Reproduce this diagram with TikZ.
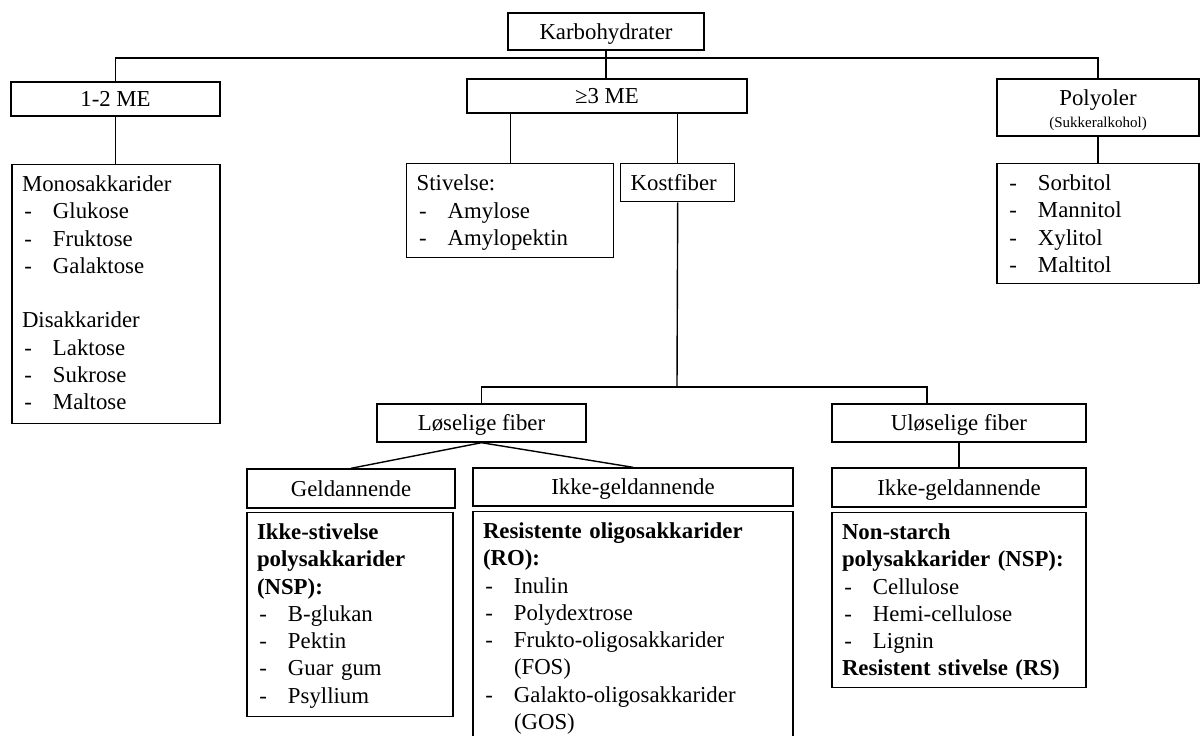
\documentclass[tikz,border=0pt]{standalone}
\usepackage{fontspec}
\setmainfont{Liberation Serif}
\usetikzlibrary{positioning}
\newcommand{\strek}{\makebox[15.5pt][l]{\hspace{1.2pt}-}}

\begin{document}
\begin{tikzpicture}[
  x=0.5pt, y=-0.5pt,
  font=\fontsize{11.4}{13.65}\selectfont,
  box/.style={draw, line width=0.7pt, align=center, inner sep=0pt, text height=7.9pt, text depth=0.3pt},
  listbox/.style={draw, line width=0.7pt, anchor=north west, align=left, inner xsep=5pt, inner ysep=3.9pt, text height=9.6pt, text depth=#1},
  link/.style={line width=0.7pt}
]
\useasboundingbox (0,0) rectangle (1201,735);
\clip (0,0) rectangle (1201,735);

\node[box, minimum width=98pt, minimum height=18.5pt] (karb) at (606,31.5) {Karbohydrater};
\node[box, minimum width=104.5pt, minimum height=17pt] (me12) at (115.5,99) {1-2 ME};
\node[box, minimum width=140pt, minimum height=17pt] (me3) at (607,96) {≥3 ME};
\node[box, minimum width=101pt, minimum height=28.5pt, text height=21pt, text depth=1.5pt] (poly) at (1098,107.5) {Polyoler\\[-2.7pt]{\fontsize{7.5}{9}\selectfont (Sukkeralkohol)}};

\node[listbox=112pt, text width=94pt, below right=23.5pt and 0.5pt of me12.south west] (mono) {Monosakkarider\\\strek Glukose\\\strek Fruktose\\\strek Galaktose\\[13.65pt]Disakkarider\\\strek Laktose\\\strek Sukrose\\\strek Maltose};
\node[listbox=29.6pt, text width=93.5pt] (stiv) at (406,163) {Stivelse:\\\strek Amylose\\\strek Amylopektin};
\node[listbox=1.6pt, text width=47pt] (kost) at (620,163) {Kostfiber};
\node[listbox=42.6pt, text width=91pt, below right=13pt and 0pt of poly.south west] (sorb) {\strek Sorbitol\\\strek Mannitol\\\strek Xylitol\\\strek Maltitol};

\node[box, minimum width=104.5pt, minimum height=19pt] (los) at (481.5,423) {Løselige fiber};
\node[box, minimum width=127pt, minimum height=19pt] (ulos) at (959,423) {Uløselige fiber};
\node[box, minimum width=104pt, minimum height=19.5pt] (geld) at (351,488.5) {Geldannende};
\node[box, minimum width=160pt, minimum height=19pt] (ikke1) at (633,487) {Ikke-geldannende};
\node[box, minimum width=127pt, minimum height=19.5pt] (ikke2) at (959,487.5) {Ikke-geldannende};

\node[listbox=84.6pt, text width=93pt, below right=1.5pt and 0pt of geld.south west] (nsp1) {\textbf{Ikke-stivelse}\\\textbf{polysakkarider}\\\textbf{(NSP):}\\\strek B-glukan\\\strek Pektin\\\strek Guar gum\\\strek Psyllium};
\node[listbox=107.6pt, text width=150pt, below right=2pt and 0pt of ikke1.south west] (ro) {\textbf{Resistente oligosakkarider}\\\textbf{(RO):}\\\strek Inulin\\\strek Polydextrose\\\strek Frukto-oligosakkarider\\\hspace*{15.5pt}(FOS)\\\strek Galakto-oligosakkarider\\\hspace*{15.5pt}(GOS)};
\node[listbox=70.1pt, text width=117pt, below right=2pt and 0pt of ikke2.south west] (nsp2) {\textbf{Non-starch}\\\textbf{polysakkarider (NSP):}\\\strek Cellulose\\\strek Hemi-cellulose\\\strek Lignin\\\textbf{Resistent stivelse (RS)}};

\coordinate (bus1) at (607,58);
\coordinate (bus2) at (677,387);
\coordinate (bus3) at (927,387);

\draw[link] (karb.south) -- (karb.south |- me3.north);
\draw[link] (me12.north) |- (bus1) -| (poly.north);
\draw[link] (me12.south) -- (me12.south |- mono.north);
\draw[link] (stiv.north) -- (stiv.north |- me3.south);
\draw[link] (kost.north) -- (kost.north |- me3.south);
\draw[link] (poly.south) -- (poly.south |- sorb.north);
\draw[link] (kost.south) -- (bus2);
\draw[link] (los.north) |- (bus3) -- (bus3 |- ulos.north);
\draw[link] (los.south) -- (geld.north);
\draw[link] (los.south) -- (ikke1.north);
\draw[link] (ulos.south) -- (ikke2.north);
\end{tikzpicture}
\end{document}
